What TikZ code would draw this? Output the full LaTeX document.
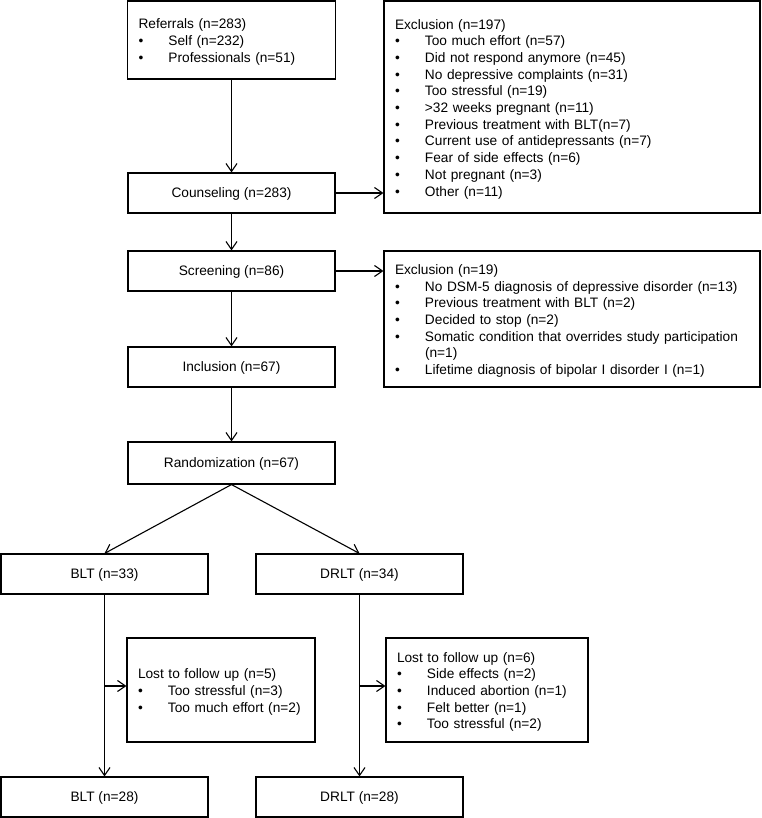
\documentclass[tikz,border=0pt]{standalone}
\usepackage{fontspec}
\setmainfont{Liberation Sans}
\usetikzlibrary{arrows.meta}
\newcommand{\bitem}[1]{\\\makebox[30pt][l]{\textbullet}#1}
\newcommand{\bcont}[1]{\\\hspace*{30pt}#1}
\begin{document}
\begin{tikzpicture}[x=1pt,y=-1pt,line width=1.1pt,
  >={Straight Barb[length=8pt,width=11pt]},
  box/.style={draw,rectangle,inner sep=0pt,align=center,text depth=0pt,
    font=\fontsize{13.7}{16.7}\selectfont},
  listbox/.style={draw,rectangle,inner ysep=0pt,align=left,inner xsep=11pt,
    font=\fontsize{13.7}{16.7}\selectfont,execute at begin node={\rule{0pt}{14pt}}}]
	\useasboundingbox (0,0) rectangle (761,818);
	% main column
	\node [listbox,text width=186pt,minimum height=78pt] (refer) at (231.5,40)
	  {Referrals (n=283)\bitem{Self (n=232)}\bitem{Professionals (n=51)}};
	\node [box,minimum width=207pt,minimum height=40pt] (couns) at (231.5,193) {Counseling (n=283)};
	\node [box,minimum width=207pt,minimum height=40pt] (screen) at (231.5,271) {Screening (n=86)};
	\node [box,minimum width=207pt,minimum height=40pt] (incl) at (231.5,367) {Inclusion (n=67)};
	\node [box,minimum width=207pt,minimum height=42pt] (rand) at (231.5,463) {Randomization (n=67)};
	% exclusions
	\node [listbox,text width=354pt,minimum height=212pt] (excl1) at (572,107)
	  {Exclusion (n=197)\bitem{Too much effort (n=57)}\bitem{Did not respond anymore (n=45)}%
	   \bitem{No depressive complaints (n=31)}\bitem{Too stressful (n=19)}%
	   \bitem{>32 weeks pregnant (n=11)}\bitem{Previous treatment with BLT(n=7)}%
	   \bitem{Current use of antidepressants (n=7)}\bitem{Fear of side effects (n=6)}%
	   \bitem{Not pregnant (n=3)}\bitem{Other (n=11)}};
	\node [listbox,text width=354pt,minimum height=136pt] (excl2) at (572,319)
	  {Exclusion (n=19)\bitem{No DSM-5 diagnosis of depressive disorder (n=13)}%
	   \bitem{Previous treatment with BLT (n=2)}\bitem{Decided to stop (n=2)}%
	   \bitem{Somatic condition that overrides study participation}\bcont{(n=1)}%
	   \bitem{Lifetime diagnosis of bipolar I disorder I (n=1)}};
	% arms
	\node [box,minimum width=207pt,minimum height=40pt] (blta) at (104.5,574) {BLT (n=33)};
	\node [box,minimum width=207pt,minimum height=40pt] (drlta) at (359.5,574) {DRLT (n=34)};
	\node [listbox,text width=166pt,minimum height=104pt] (lostb) at (221,690)
	  {Lost to follow up (n=5)\bitem{Too stressful (n=3)}\bitem{Too much effort (n=2)}};
	\node [listbox,text width=180pt,minimum height=104pt] (lostd) at (487,690)
	  {Lost to follow up (n=6)\bitem{Side effects (n=2)}\bitem{Induced abortion (n=1)}%
	   \bitem{Felt better (n=1)}\bitem{Too stressful (n=2)}};
	\node [box,minimum width=207pt,minimum height=40pt] (bltb) at (104.5,797) {BLT (n=28)};
	\node [box,minimum width=207pt,minimum height=40pt] (drltb) at (359.5,797) {DRLT (n=28)};
	\coordinate (lostbin) at ([yshift=4pt]lostb.west);
	\coordinate (lostdin) at ([yshift=4pt]lostd.west);
	% arrows
	\draw [->] (refer) -- (couns);
	\draw [->] (couns) -- (screen);
	\draw [->] (screen) -- (incl);
	\draw [->] (incl) -- (rand);
	\draw [->] (couns.east) -- (couns.east -| excl1.west);
	\draw [->] (screen.east) -- (screen.east -| excl2.west);
	\draw [->] (rand.south) -- (blta.north);
	\draw [->] (rand.south) -- (drlta.north);
	\draw [->] (blta) -- (bltb);
	\draw [->] (drlta) -- (drltb);
	\draw [->] (blta.south |- lostbin) -- (lostbin);
	\draw [->] (drlta.south |- lostdin) -- (lostdin);
\end{tikzpicture}
\end{document}
